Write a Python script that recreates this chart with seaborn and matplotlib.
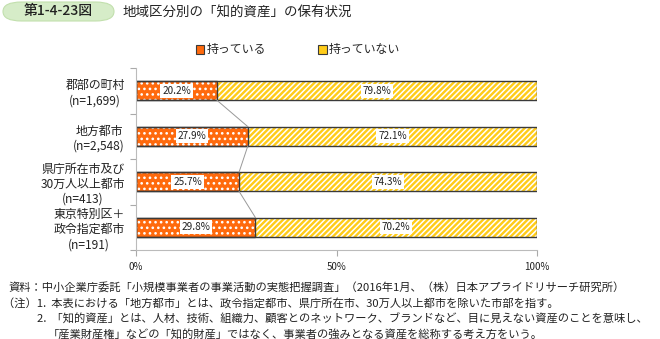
import matplotlib
matplotlib.use("Agg")
import matplotlib.pyplot as plt
from matplotlib.patches import Patch, FancyBboxPatch
import seaborn as sns
import pandas as pd

# --- data ---------------------------------------------------------------
regions = ["郡部の町村\n(n=1,699)",
           "地方都市\n(n=2,548)",
           "県庁所在市及び\n30万人以上都市\n(n=413)",
           "東京特別区＋\n政令指定都市\n(n=191)"]
have = [20.2, 27.9, 25.7, 29.8]          # 持っている (%)
have_not = [79.8, 72.1, 74.3, 70.2]      # 持っていない (%)
series_names = ["持っている", "持っていない"]
x_ticks = [0, 50, 100]
x_tick_labels = ["0%", "50%", "100%"]

header = "第1-4-23図"
title = "地域区分別の「知的資産」の保有状況"
notes = [
    "資料：中小企業庁委託「小規模事業者の事業活動の実態把握調査」（2016年1月、（株）日本アプライドリサーチ研究所）",
    "（注）1.  本表における「地方都市」とは、政令指定都市、県庁所在市、30万人以上都市を除いた市部を指す。",
    "2.  「知的資産」とは、人材、技術、組織力、顧客とのネットワーク、ブランドなど、目に見えない資産のことを意味し、",
    "「産業財産権」などの「知的財産」ではなく、事業者の強みとなる資産を総称する考え方をいう。",
]

df = pd.DataFrame({"region": regions, "have": have, "have_not": have_not})
df["total"] = df["have"] + df["have_not"]

sns.set_theme(style="white")
plt.rcParams["font.family"] = ["Noto Sans CJK JP", "DejaVu Sans"]
plt.rcParams["hatch.linewidth"] = 1.1

ORANGE = "#ff6a0d"
YELLOW = "#ffcc19"
EDGE = "#3a3a3a"
TEXT = "#222222"
BAR_H = 0.42

fig = plt.figure(figsize=(6.6, 3.39), dpi=100)
ax = fig.add_axes([136 / 660, 1 - 250 / 339, 401 / 660, 182 / 339])

# hatched fills: full-length yellow bar underneath, orange share on top
sns.barplot(data=df, x="total", y="region", orient="h", color=YELLOW,
            saturation=1, width=BAR_H, ax=ax)
n_back = len(ax.patches)
sns.barplot(data=df, x="have", y="region", orient="h", color=ORANGE,
            saturation=1, width=BAR_H, ax=ax)
for i, p in enumerate(ax.patches):
    p.set_edgecolor("white")
    p.set_linewidth(0)
    p.set_hatch("//////" if i < n_back else "...")

# dark outlines of both segments
sns.barplot(data=df, x="total", y="region", orient="h", color="white",
            fill=False, width=BAR_H, ax=ax, linewidth=1.0, edgecolor=EDGE)
sns.barplot(data=df, x="have", y="region", orient="h", color="white",
            fill=False, width=BAR_H, ax=ax, linewidth=1.0, edgecolor=EDGE)

# connector lines between the orange segments
for i in range(len(have) - 1):
    ax.plot([have[i], have[i + 1]], [i + BAR_H / 2, i + 1 - BAR_H / 2],
            color="#999999", lw=0.7, zorder=1)

# value labels
box = dict(boxstyle="square,pad=0.18", fc="white", ec="none")
for i, (a, b) in enumerate(zip(have, have_not)):
    ax.text(a / 2, i, f"{a:.1f}%", ha="center", va="center",
            fontsize=7.2, color=TEXT, bbox=box, zorder=5)
    ax.text(a + b / 2, i, f"{b:.1f}%", ha="center", va="center",
            fontsize=7.2, color=TEXT, bbox=box, zorder=5)

ax.set_xlim(0, 100)
ax.set_ylim(3.5, -0.5)
ax.set_xticks(x_ticks)
ax.set_xticklabels(x_tick_labels, fontsize=7, color=TEXT)
ax.set_yticks(range(len(regions)))
ax.set_yticklabels(regions, fontsize=8.6, color=TEXT,
                   multialignment="center", linespacing=1.2)
ax.set_xlabel("")
ax.set_ylabel("")
ax.set_yticks([-0.5, 0.5, 1.5, 2.5, 3.5], minor=True)
ax.tick_params(axis="y", which="major", length=0, pad=8)
ax.tick_params(axis="y", which="minor", length=4, color="#aaaaaa",
               width=0.8, left=True)
ax.tick_params(axis="x", length=4, color="#aaaaaa", width=0.8,
               bottom=True, pad=5)
for s in ["top", "right"]:
    ax.spines[s].set_visible(False)
for s in ["left", "bottom"]:
    ax.spines[s].set_color("#bbbbbb")
    ax.spines[s].set_linewidth(0.8)
ax.grid(False)

# legend
handles = [Patch(facecolor=ORANGE, edgecolor=EDGE, lw=0.8),
           Patch(facecolor=YELLOW, edgecolor=EDGE, lw=0.8)]
fig.legend(handles, series_names, loc="center", ncol=2,
           bbox_to_anchor=(298 / 660, 1 - 50 / 339), frameon=False,
           fontsize=8.6, handlelength=0.7, handleheight=0.7,
           handletextpad=0.2, columnspacing=4.4, borderpad=0)

# header pill and title
fig.patches.append(FancyBboxPatch((3 / 660, 1 - 21 / 339), 111 / 660,
                                  19 / 339,
                                  boxstyle="round,pad=0,rounding_size=0.028",
                                  transform=fig.transFigure, fc="#d6ecc8",
                                  ec="#c2e0ad", lw=0.8))
fig.text(58 / 660, 1 - 11.5 / 339, header, ha="center", va="center",
         fontsize=10, color=TEXT, fontweight="medium")
fig.text(123 / 660, 1 - 12.5 / 339, title, ha="left", va="center",
         fontsize=9.7, color=TEXT)

# source and notes
fig.text(8 / 660, 1 - 287 / 339, notes[0], ha="left", va="center",
         fontsize=8.1, color=TEXT)
fig.text(3 / 660, 1 - 303 / 339, notes[1], ha="left", va="center",
         fontsize=8.1, color=TEXT)
fig.text(37 / 660, 1 - 319 / 339, notes[2], ha="left", va="center",
         fontsize=8.1, color=TEXT)
fig.text(48 / 660, 1 - 334 / 339, notes[3], ha="left", va="center",
         fontsize=8.1, color=TEXT)

fig.savefig("out.png", dpi=100)
